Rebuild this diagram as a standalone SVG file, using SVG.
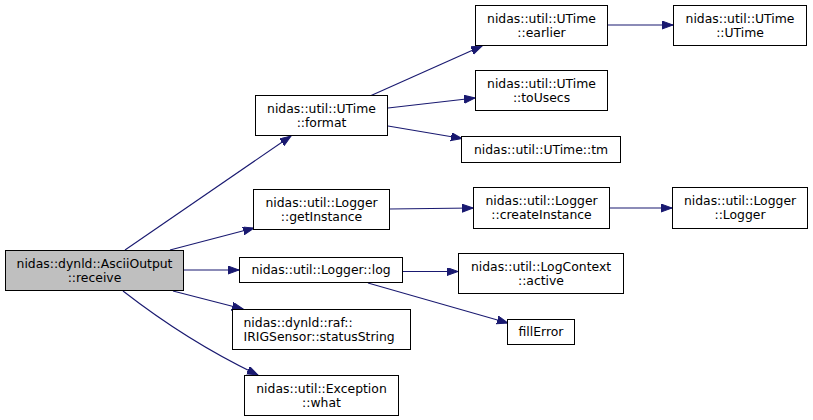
<svg xmlns="http://www.w3.org/2000/svg" width="813" height="420" viewBox="0 0 813 420">
<style>
  .n rect { fill: #ffffff; stroke: #000000; stroke-width: 1; }
  .n.root rect { fill: #bfbfbf; }
  .n text { font-family: "DejaVu Sans", "Liberation Sans", sans-serif; font-size: 12.4px; fill: #000000; text-anchor: middle; }
  .n text.l { text-anchor: start; }
  .e path { fill: none; stroke: #191970; stroke-width: 1.1; marker-end: url(#arr); }
</style>
<defs>
  <marker id="arr" markerUnits="userSpaceOnUse" markerWidth="12" markerHeight="9" refX="11" refY="4" orient="auto">
    <path d="M0,0 L11,4 L0,8 z" fill="#191970" stroke="#191970" stroke-width="1"/>
  </marker>
</defs>
<rect width="813" height="420" fill="#ffffff"/>
<g id="edges" class="e">
  <path d="M125,250 L291,136"/>
  <path d="M170,250 L254,228"/>
  <path d="M184,270 L239,270"/>
  <path d="M173,291 L243,309"/>
  <path d="M123,291 C150,312 195,345 258,375"/>
  <path d="M370,96 L482,46"/>
  <path d="M388,108 L475,98"/>
  <path d="M388,126 L462,138.5"/>
  <path d="M607,25 L673,25"/>
  <path d="M389,209 L473,208"/>
  <path d="M609,208 L672,208"/>
  <path d="M403,271.5 L458,271.5"/>
  <path d="M368,283 L508,323"/>
</g>
<g id="node-receive" class="n root">
  <rect x="5.5" y="250.5" width="178" height="40"/>
  <text x="94.5" y="267.5">nidas::dynld::AsciiOutput</text>
  <text x="94.5" y="281.5">::receive</text>
</g>
<g id="node-format" class="n">
  <rect x="255.5" y="95.5" width="132" height="40"/>
  <text x="321.5" y="112.5">nidas::util::UTime</text>
  <text x="321.5" y="126.5">::format</text>
</g>
<g id="node-earlier" class="n">
  <rect x="475.5" y="5.5" width="132" height="40"/>
  <text x="541.5" y="22.5">nidas::util::UTime</text>
  <text x="541.5" y="36.5">::earlier</text>
</g>
<g id="node-utime" class="n">
  <rect x="673.5" y="5.5" width="133" height="40"/>
  <text x="740" y="22.5">nidas::util::UTime</text>
  <text x="740" y="36.5">::UTime</text>
</g>
<g id="node-tousecs" class="n">
  <rect x="475.5" y="70.5" width="132" height="40"/>
  <text x="541.5" y="87.5">nidas::util::UTime</text>
  <text x="541.5" y="101.5">::toUsecs</text>
</g>
<g id="node-tm" class="n">
  <rect x="461.5" y="136.5" width="159" height="26"/>
  <text x="541" y="153.5">nidas::util::UTime::tm</text>
</g>
<g id="node-getinstance" class="n">
  <rect x="253.5" y="189.5" width="136" height="40"/>
  <text x="321.5" y="206.5">nidas::util::Logger</text>
  <text x="321.5" y="220.5">::getInstance</text>
</g>
<g id="node-createinstance" class="n">
  <rect x="473.5" y="187.5" width="136" height="41"/>
  <text x="541.5" y="204.5">nidas::util::Logger</text>
  <text x="541.5" y="218.5">::createInstance</text>
</g>
<g id="node-logger" class="n">
  <rect x="672.5" y="187.5" width="135" height="41"/>
  <text x="740" y="204.5">nidas::util::Logger</text>
  <text x="740" y="218.5">::Logger</text>
</g>
<g id="node-log" class="n">
  <rect x="239.5" y="257.5" width="163" height="25"/>
  <text x="321" y="274.3">nidas::util::Logger::log</text>
</g>
<g id="node-active" class="n">
  <rect x="458.5" y="253.5" width="165" height="40"/>
  <text x="541" y="270.5">nidas::util::LogContext</text>
  <text x="541" y="284.5">::active</text>
</g>
<g id="node-fillerror" class="n">
  <rect x="507.5" y="319.5" width="67" height="25"/>
  <text x="541" y="336.3">fillError</text>
</g>
<g id="node-statusstring" class="n">
  <rect x="232.5" y="309.5" width="178" height="40"/>
  <text class="l" x="243.5" y="326.5">nidas::dynld::raf::</text>
  <text class="l" x="243.5" y="340.5">IRIGSensor::statusString</text>
</g>
<g id="node-what" class="n">
  <rect x="244.5" y="375.5" width="154" height="40"/>
  <text x="321.5" y="392.5">nidas::util::Exception</text>
  <text x="321.5" y="406.5">::what</text>
</g>
</svg>
